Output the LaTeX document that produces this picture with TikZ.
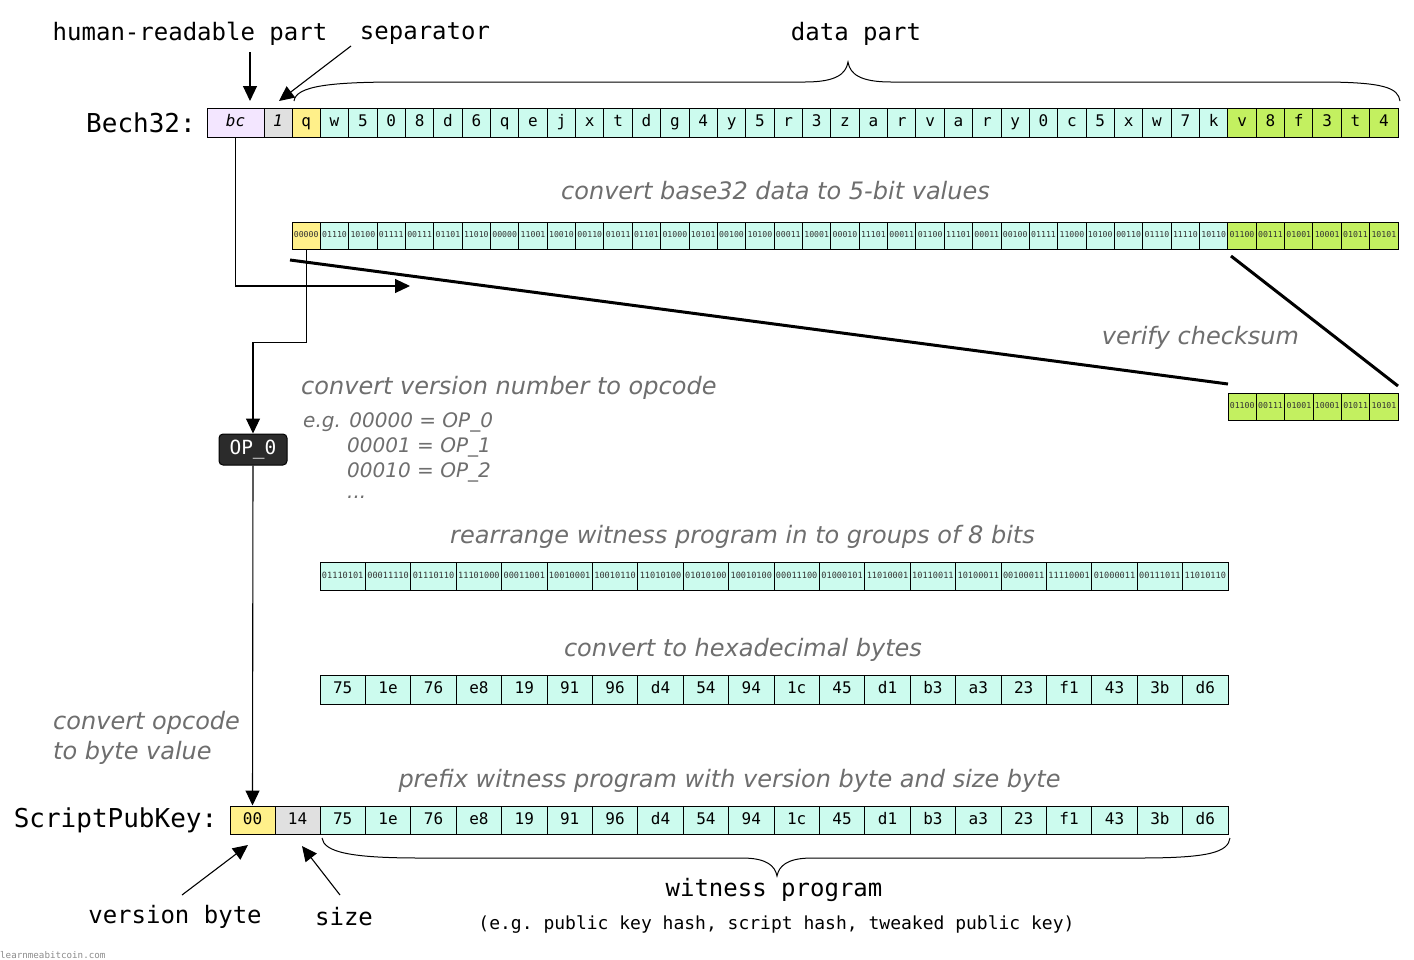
\documentclass[tikz,border=0pt]{standalone}
\usepackage{fontspec}
\setmainfont{DejaVu Sans}
\setmonofont{DejaVu Sans Mono}
\usetikzlibrary{arrows.meta}
\definecolor{cellcyan}{HTML}{CCFBEE}
\definecolor{cellyel}{HTML}{FFF08A}
\definecolor{cellgrn}{HTML}{C3F060}
\definecolor{cellpur}{HTML}{F3E6FF}
\definecolor{cellgry}{HTML}{E0E0E0}
\definecolor{txtgray}{HTML}{6E6E6E}
\definecolor{opbg}{HTML}{2B2B2B}
\tikzset{
  cell/.style={draw=black, line width=1pt, inner sep=0pt, minimum height=29pt,
    text height=11pt, text depth=3pt, font=\ttfamily\fontsize{16}{16}\selectfont},
  bitcell/.style={draw=black, line width=1pt, inner sep=0pt, minimum height=27pt,
    text height=5.5pt, text depth=1pt, text=black!80, font=\ttfamily\fontsize{8.2}{8.5}\selectfont},
  note/.style={inner sep=0pt, text=txtgray, font=\itshape\fontsize{24}{30}\selectfont},
  smallnote/.style={inner sep=0pt, text=txtgray, font=\itshape\fontsize{20}{24}\selectfont, anchor=west},
  mono/.style={inner sep=0pt, font=\ttfamily\fontsize{24}{24}\selectfont},
  bigmono/.style={inner sep=0pt, font=\ttfamily\fontsize{26}{26}\selectfont},
  tipa/.style={-{Triangle[length=15pt,width=14pt]}},
  conn/.style={line width=1.1pt},
  thick3/.style={line width=3pt},
}
\begin{document}
\begin{tikzpicture}[x=1pt,y=-1pt]
\useasboundingbox[fill=white] (0,0) rectangle (1414,959);

% ---------- Bech32 row ----------
\node[bigmono] (lbech) at (141,123) {Bech32:};
\node[cell, fill=cellpur, minimum width=57pt] (hrp) at (235.5,122.5) {\itshape bc};
\node[cell, fill=cellgry, minimum width=28pt] (sep) at (278,122.5) {\itshape 1};
\foreach \c [count=\i from 0] in {q,w,5,0,8,d,6,q,e,j,x,t,d,g,4,y,5,r,3,z,a,r,v,a,r,y,0,c,5,x,w,7,k,v,8,f,3,t,4} {
  \pgfmathsetmacro\cx{292+28.36*\i+14.18}
  \ifnum\i=0 \def\fc{cellyel}\else\ifnum\i>32 \def\fc{cellgrn}\else\def\fc{cellcyan}\fi\fi
  \node[cell, fill=\fc, minimum width=28.36pt] (d\i) at (\cx,122.5) {\c};
}

% labels on top
\node[mono] (lhrp) at (190,34) {human-readable part};
\node[mono] (lsep) at (425,34) {separator};
\node[mono] (ldata) at (856,34) {data part};
\coordinate (hrpA) at (250,52);
\coordinate (hrpB) at (250,101);
\coordinate (sepA) at (351,46);
\coordinate (sepB) at (279,101);
\draw[conn,tipa] (hrpA) -- (hrpB);
\draw[conn,tipa] (sepA) -- (sepB);
\draw[line width=1pt] (294,101) .. controls (296,86) and (330,82) .. (400,82) -- (805,82)
  .. controls (836,82) and (846,74) .. (848,62)
  .. controls (850,74) and (860,82) .. (891,82) -- (1320,82)
  .. controls (1385,82) and (1398,88) .. (1400,101);

% ---------- 5-bit row ----------
\node[note] (n5) at (775.5,191) {convert base32 data to 5-bit values};
\foreach \v [count=\i from 0] in {00000,01110,10100,01111,00111,01101,11010,00000,11001,10010,00110,01011,01101,01000,10101,00100,10100,00011,10001,00010,11101,00011,01100,11101,00011,00100,01111,11000,10100,00110,01110,11110,10110,01100,00111,01001,10001,01011,10101} {
  \pgfmathsetmacro\cx{292+28.36*\i+14.18}
  \ifnum\i=0 \def\fc{cellyel}\else\ifnum\i>32 \def\fc{cellgrn}\else\def\fc{cellcyan}\fi\fi
  \node[bitcell, fill=\fc, minimum width=28.36pt] (b\i) at (\cx,235.5) {\v};
}

% checksum box
\foreach \v [count=\i from 0] in {01100,00111,01001,10001,01011,10101} {
  \pgfmathsetmacro\cx{1228+28.36*\i+14.18}
  \node[bitcell, fill=cellgrn, minimum width=28.36pt] (k\i) at (\cx,406.5) {\v};
}
\node[note] (nver) at (1200.5,338) {verify checksum};
\coordinate (chkA) at (290,260);
\coordinate (chkB) at (1228,384);
\coordinate (chkC) at (1231,256);
\coordinate (chkD) at (1398,386);
\draw[thick3] (chkA) -- (chkB);
\draw[thick3] (chkC) -- (chkD);

% hrp goes along
\coordinate (hrpEnd) at (410,286);
\draw[conn,tipa] (hrp.south) |- (hrpEnd);

% ---------- version number ----------
\node[note, anchor=west] (nop) at (301,388) {convert version number to opcode};
\node[smallnote] (eg1) at (303,422) {e.g. 00000 = OP\_0};
\node[smallnote] (eg2) at (347,447) {00001 = OP\_1};
\node[smallnote] (eg3) at (347,472) {00010 = OP\_2};
\node[smallnote] (eg4) at (347,497) {...};
\node[draw=black, line width=1pt, fill=opbg, rounded corners=4pt, minimum width=68pt, minimum height=31pt,
      inner sep=0pt, text height=13pt, text depth=3pt, text=white, font=\ttfamily\fontsize{19.5}{19.5}\selectfont] (op) at (253,449.5) {OP\_0};
\draw[conn,tipa] (b0.south) -- ++(0,93) -| (op.north);

% ---------- 8-bit row ----------
\node[note] (n8) at (742.5,537) {rearrange witness program in to groups of 8 bits};
\foreach \v [count=\i from 0] in {01110101,00011110,01110110,11101000,00011001,10010001,10010110,11010100,01010100,10010100,00011100,01000101,11010001,10110011,10100011,00100011,11110001,01000011,00111011,11010110} {
  \pgfmathsetmacro\cx{320+45.4*\i+22.7}
  \node[bitcell, fill=cellcyan, minimum width=45.4pt, minimum height=28pt, font=\ttfamily\fontsize{8.6}{9}\selectfont] (e\i) at (\cx,576) {\v};
}

% ---------- hex row ----------
\node[note] (nhex) at (743,650) {convert to hexadecimal bytes};
\foreach \v [count=\i from 0] in {75,1e,76,e8,19,91,96,d4,54,94,1c,45,d1,b3,a3,23,f1,43,3b,d6} {
  \pgfmathsetmacro\cx{320+45.4*\i+22.7}
  \node[cell, fill=cellcyan, minimum width=45.4pt] (h\i) at (\cx,689.5) {\v};
}

% ---------- ScriptPubKey row ----------
\node[note, anchor=west, align=left] (nbyte) at (53,738) {convert opcode\\to byte value};
\node[note] (npre) at (729.5,781) {prefix witness program with version byte and size byte};
\node[bigmono] (lspk) at (115.5,820) {ScriptPubKey:};
\node[cell, fill=cellyel, minimum width=45pt, minimum height=28pt] (v00) at (252.5,820) {00};
\node[cell, fill=cellgry, minimum width=45pt, minimum height=28pt] (v14) at (297.5,820) {14};
\foreach \v [count=\i from 0] in {75,1e,76,e8,19,91,96,d4,54,94,1c,45,d1,b3,a3,23,f1,43,3b,d6} {
  \pgfmathsetmacro\cx{320+45.4*\i+22.7}
  \node[cell, fill=cellcyan, minimum width=45.4pt, minimum height=28pt] (s\i) at (\cx,820) {\v};
}
\draw[conn,tipa] (op.south) -- (v00.north);

\draw[line width=1pt] (322,838) .. controls (324,852) and (350,858) .. (420,858) -- (742,858)
  .. controls (767,858) and (775,866) .. (777,876)
  .. controls (779,866) and (787,858) .. (812,858) -- (1140,858)
  .. controls (1210,858) and (1228,852) .. (1230,838);
\node[mono] (lwit) at (774,890) {witness program};
\node[inner sep=0pt, font=\ttfamily\fontsize{18}{18}\selectfont] (lwex) at (776.5,925) {(e.g. public key hash, script hash, tweaked public key)};

\node[mono] (lvb) at (175,917) {version byte};
\node[mono] (lsz) at (344,917) {size};
\coordinate (vbA) at (182,895);
\coordinate (vbB) at (248,845);
\coordinate (szA) at (340,895);
\coordinate (szB) at (302,846);
\draw[conn,tipa] (vbA) -- (vbB);
\draw[conn,tipa] (szA) -- (szB);

\node[inner sep=0pt, anchor=west, text=black!45, font=\ttfamily\fontsize{9.2}{9.2}\selectfont] (wm) at (0,955) {learnmeabitcoin.com};
\end{tikzpicture}
\end{document}
